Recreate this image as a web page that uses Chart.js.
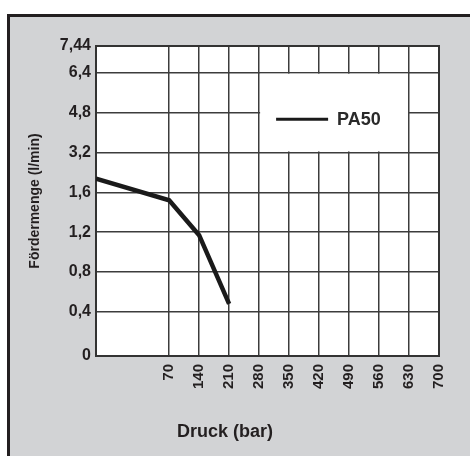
<!DOCTYPE html>
<html>
<head>
<meta charset="utf-8">
<script src="https://cdn.jsdelivr.net/npm/chart.js@4/dist/chart.umd.min.js"></script>
<style>
  html, body { margin: 0; padding: 0; background: #fff; overflow: hidden; }
  #frame {
    position: absolute; left: 7px; top: 14px; width: 500px; height: 500px;
    background: #d2d3d5; border-left: 3px solid #231f20; border-top: 3px solid #231f20;
  }
  #wrap { position: absolute; left: 0; top: 0; width: 470px; height: 456px; }
</style>
</head>
<body>
<div id="frame"></div>
<div id="wrap"><canvas id="chart"></canvas></div>
<script>
// Chart data
const seriesLabel = 'PA50';
const pressure = [0, 70, 140, 210];          // bar
const flow = [2.15, 1.52, 1.17, 0.48];       // l/min
const xTickValues = [0, 70, 140, 210, 280, 350, 420, 490, 560, 630, 700];
const yTickValues = [0, 0.4, 0.8, 1.2, 1.6, 3.2, 4.8, 6.4, 7.44];

// The printed grid is not to scale: every interval gets one grid cell,
// except the first (wider) and the top y one (partial).
function warp(ticks, spans) {
  const starts = [0];
  spans.forEach((s, i) => starts.push(starts[i] + s));
  const fn = v => {
    let i = 0;
    while (i < ticks.length - 2 && v > ticks[i + 1]) i++;
    const t = (v - ticks[i]) / (ticks[i + 1] - ticks[i]);
    return starts[i] + t * spans[i];
  };
  fn.total = starts[starts.length - 1];
  return fn;
}
const toX = warp(xTickValues, xTickValues.slice(1).map((_, i) => i === 0 ? 2.44 : 1));
const toY = warp(yTickValues, yTickValues.slice(1).map((_, i) => i === 0 ? 1.105 : (i === yTickValues.length - 2 ? 0.67 : 1)));

const ink = '#231f20';
const gridColor = '#3c3c3c';
const family = '"Liberation Sans", Arial, sans-serif';

const plotBackground = {
  id: 'plotBackground',
  beforeDraw(chart) {
    const { ctx, chartArea: a } = chart;
    ctx.save();
    ctx.fillStyle = '#fff';
    ctx.fillRect(a.left, a.top, a.right - a.left, a.bottom - a.top);
    ctx.restore();
  }
};

// legend sits in a blanked block of the grid (280..630 bar, 3,2..6,4 l/min)
const boxLegend = {
  id: 'boxLegend',
  beforeDatasetsDraw(chart) {
    const { ctx, chartArea: a, scales } = chart;
    const x1 = scales.x.getPixelForValue(toX(280));
    const x2 = scales.x.getPixelForValue(toX(630));
    const y1 = scales.y.getPixelForValue(toY(6.4));
    const y2 = scales.y.getPixelForValue(toY(3.2));
    ctx.save();
    ctx.fillStyle = '#fff';
    ctx.fillRect(x1 + 1, y1 + 1, x2 - x1 - 2, y2 - y1 - 2);

    ctx.strokeStyle = '#333';
    ctx.lineWidth = 2;
    ctx.strokeRect(a.left, a.top, a.right - a.left, a.bottom - a.top);

    const ds = chart.data.datasets[0];
    const ly = y1 + (y2 - y1) * 0.585;
    ctx.strokeStyle = ds.borderColor;
    ctx.lineWidth = 3;
    ctx.beginPath();
    ctx.moveTo(x1 + 17, ly);
    ctx.lineTo(x1 + 69, ly);
    ctx.stroke();
    ctx.fillStyle = '#2a2a2a';
    ctx.font = 'bold 18px ' + family;
    ctx.textBaseline = 'middle';
    ctx.fillText(ds.label, x1 + 78, ly + 1);
    ctx.restore();
  }
};

new Chart(document.getElementById('chart'), {
  type: 'line',
  data: {
    datasets: [{
      label: seriesLabel,
      data: pressure.map((p, i) => ({ x: toX(p), y: toY(flow[i]) })),
      borderColor: '#1a1a1a',
      borderWidth: 4.5,
      pointRadius: 0,
      tension: 0,
      fill: false
    }]
  },
  options: {
    responsive: true,
    maintainAspectRatio: false,
    animation: false,
    devicePixelRatio: 1,
    layout: { padding: { left: 11, top: 46, right: 31, bottom: 0 } },
    plugins: {
      legend: { display: false },
      tooltip: { enabled: false },
      title: {
        display: true,
        position: 'bottom',
        text: 'Druck (bar)',
        color: ink,
        font: { family: family, size: 18, weight: 'bold' },
        padding: { top: 0, bottom: 13 }
      }
    },
    scales: {
      x: {
        type: 'linear',
        min: 0,
        max: toX.total,
        afterBuildTicks: s => { s.ticks = xTickValues.map(v => ({ value: toX(v) })); },
        afterFit: s => { s.height = 65.4; },
        grid: { color: gridColor, lineWidth: 1.5, drawTicks: false },
        border: { color: '#333', width: 2 },
        ticks: {
          color: ink,
          padding: 8,
          minRotation: 90,
          maxRotation: 90,
          autoSkip: false,
          font: { family: family, size: 15, weight: 'bold' },
          callback: (val, i) => i === 0 ? '' : String(xTickValues[i])
        }
      },
      y: {
        type: 'linear',
        min: 0,
        max: toY.total,
        afterBuildTicks: s => { s.ticks = yTickValues.map(v => ({ value: toY(v) })); },
        afterFit: s => { s.width = 85; },
        grid: { color: gridColor, lineWidth: 1.5, drawTicks: false },
        border: { color: '#333', width: 2 },
        title: {
          display: true,
          text: 'Fördermenge (l/min)',
          color: ink,
          font: { family: family, size: 14, weight: 'bold' },
          padding: { top: 15.5, bottom: 0 }
        },
        ticks: {
          color: ink,
          padding: 5,
          autoSkip: false,
          font: { family: family, size: 16, weight: 'bold' },
          callback: (val, i) => String(yTickValues[i]).replace('.', ',')
        }
      }
    }
  },
  plugins: [plotBackground, boxLegend]
});
</script>
</body>
</html>
